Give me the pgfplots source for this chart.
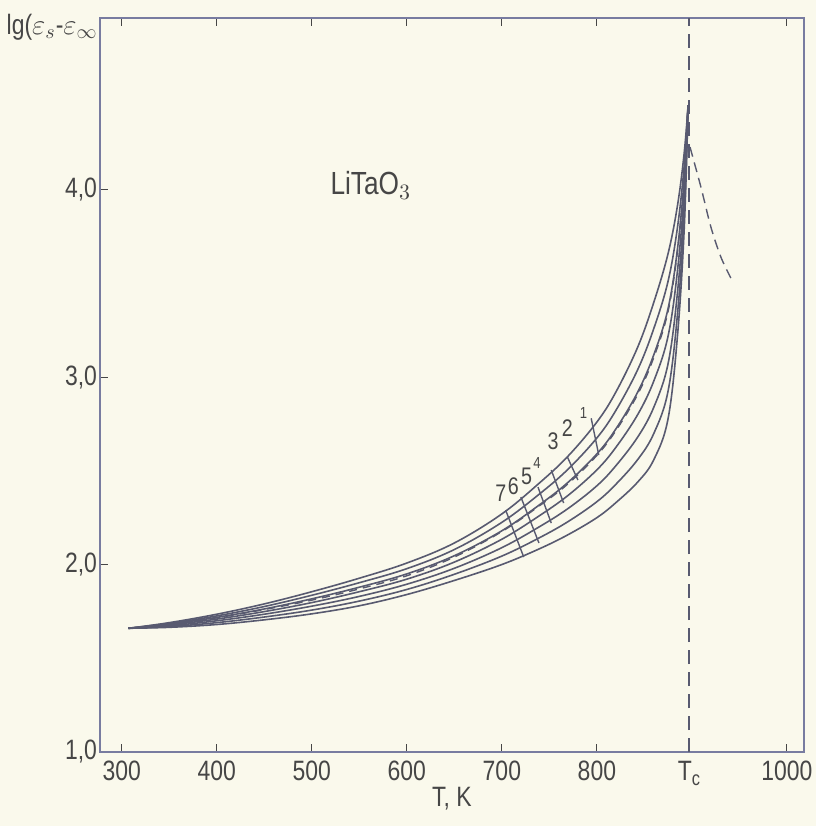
\documentclass[border=0pt]{standalone}
\usepackage{pgfplots}
\pgfplotsset{compat=1.18}
\usepackage{fontspec}
\setmainfont{Liberation Sans}[FakeStretch=0.82]
\definecolor{paper}{RGB}{250,249,236}
\definecolor{ink}{RGB}{88,90,112}
\definecolor{axisc}{RGB}{120,124,160}
\definecolor{txt}{RGB}{70,70,70}
\begin{document}
\begin{tikzpicture}
\fill[paper] (-50pt,-37pt) rectangle (358pt,376pt);
\begin{axis}[
  scale only axis, width=352pt, height=367pt,
  xmin=277, xmax=1018, ymin=1.0, ymax=4.915,
  axis line style={axisc, line width=1.1pt},
  tick align=inside, major tick length=4pt,
  tick style={txt, line width=0.5pt},
  xtick={300,400,500,600,700,800,897,1000},
  xticklabels={300,400,500,600,700,800,T\raisebox{-0.35ex}{\fontsize{10}{10}\selectfont c},1000},
  ytick={1,2,3,4},
  yticklabels={{1,0},{2,0},{3,0},{4,0}},
  ytick pos=left,
  ticklabel style={font=\fontsize{14}{16}\selectfont, text=txt},
  xticklabel style={yshift=-1pt},
  yticklabel style={xshift=2pt},
  xlabel={T, K}, xlabel style={font=\fontsize{14}{16}\selectfont, text=txt, yshift=6pt},
  clip=false,
]
\pgfplotsset{cv/.style={ink, line width=0.8pt, smooth, tension=0.6}}
% curve 1 (lowest)
\addplot[cv] coordinates {(307,1.66)(350,1.665)(400,1.68)(450,1.705)(500,1.737)(550,1.78)(600,1.84)(650,1.915)(700,2.00)(740,2.085)(770,2.16)(800,2.25)(820,2.33)(843,2.44)(860,2.56)(875,2.78)(885,3.23)(892,3.80)(896,4.45)};
% curve 2
\addplot[cv] coordinates {(307,1.66)(350,1.669)(400,1.69)(450,1.72)(500,1.757)(550,1.805)(600,1.867)(650,1.948)(700,2.045)(740,2.144)(770,2.23)(800,2.335)(820,2.428)(843,2.56)(860,2.70)(875,2.927)(885,3.345)(892,3.867)(896,4.45)};
% curve 3
\addplot[cv] coordinates {(307,1.66)(350,1.673)(400,1.70)(450,1.735)(500,1.778)(550,1.83)(600,1.895)(650,1.98)(700,2.09)(740,2.203)(770,2.30)(800,2.42)(820,2.527)(843,2.68)(860,2.84)(875,3.073)(885,3.46)(892,3.933)(896,4.45)};
% curve 4
\addplot[cv] coordinates {(307,1.66)(350,1.678)(400,1.709)(450,1.749)(500,1.797)(550,1.855)(600,1.922)(650,2.013)(700,2.135)(740,2.262)(770,2.37)(800,2.505)(820,2.625)(843,2.80)(860,2.98)(875,3.22)(885,3.575)(892,4.00)(896,4.45)};
% curve 5
\addplot[cv] coordinates {(307,1.66)(350,1.682)(400,1.718)(450,1.763)(500,1.817)(550,1.879)(600,1.95)(650,2.047)(700,2.18)(740,2.32)(770,2.44)(800,2.59)(820,2.723)(843,2.92)(860,3.12)(875,3.367)(885,3.69)(892,4.067)(896,4.45)};
% curve 6
\addplot[cv] coordinates {(307,1.66)(350,1.686)(400,1.726)(450,1.776)(500,1.836)(550,1.903)(600,1.978)(650,2.08)(700,2.225)(740,2.378)(770,2.51)(800,2.675)(820,2.822)(843,3.04)(860,3.26)(875,3.513)(885,3.805)(892,4.133)(896,4.45)};
% curve 7 (highest)
\addplot[cv] coordinates {(307,1.66)(350,1.69)(400,1.735)(450,1.79)(500,1.855)(550,1.927)(600,2.008)(650,2.115)(700,2.27)(740,2.437)(770,2.58)(800,2.76)(820,2.92)(843,3.16)(860,3.40)(875,3.66)(885,3.92)(892,4.20)(896,4.45)};
% dashed curve inside the bundle
\addplot[ink, line width=0.7pt, dash pattern=on 4pt off 3pt, smooth, tension=0.6] coordinates {(307,1.66)(350,1.681)(400,1.716)(450,1.76)(500,1.81)(550,1.87)(600,1.94)(650,2.04)(700,2.176)(740,2.315)(770,2.432)(800,2.582)(820,2.714)(843,2.908)(860,3.106)(875,3.352)(885,3.679)(892,4.06)(896,4.45)};
% dashed branch above Tc
\addplot[ink, line width=0.7pt, dash pattern=on 5pt off 3pt, smooth] coordinates {(898,4.227)(909.5,4.013)(920,3.80)(930.5,3.64)(941,3.528)};
% Tc vertical dashed line
\addplot[ink, line width=0.8pt, dash pattern=on 7pt off 4pt] coordinates {(897,1.0)(897,4.915)};
% marker strokes
\addplot[ink, line width=0.7pt] coordinates {(704,2.29)(723,2.04)};
\addplot[ink, line width=0.7pt] coordinates {(720,2.36)(739,2.115)};
\addplot[ink, line width=0.7pt] coordinates {(738,2.413)(752,2.221)};
\addplot[ink, line width=0.7pt] coordinates {(752,2.504)(765,2.328)};
\addplot[ink, line width=0.7pt] coordinates {(769,2.573)(780,2.451)};
\addplot[ink, line width=0.7pt] coordinates {(794,2.78)(802,2.584)};
% curve numbers
\node[text=txt, font=\fontsize{12}{13}\selectfont] at (axis cs:699,2.38) {7};
\node[text=txt, font=\fontsize{12}{13}\selectfont] at (axis cs:712,2.42) {6};
\node[text=txt, font=\fontsize{12}{13}\selectfont] at (axis cs:726,2.47) {5};
\node[text=txt, font=\fontsize{8}{9}\selectfont] at (axis cs:737,2.54) {4};
\node[text=txt, font=\fontsize{12}{13}\selectfont] at (axis cs:754,2.66) {3};
\node[text=txt, font=\fontsize{12}{13}\selectfont] at (axis cs:769,2.73) {2};
\node[text=txt, font=\fontsize{8}{9}\selectfont] at (axis cs:786,2.81) {1};
% compound label
\node[text=txt, font=\fontsize{16}{18}\selectfont] at (axis cs:562,4.02) {LiTaO$_3$};
% y-axis quantity
\node[text=txt, anchor=east, font=\fontsize{14}{16}\selectfont, inner sep=1pt] at (rel axis cs:0,0.988) {lg($\varepsilon_s$-$\varepsilon_\infty$};
\end{axis}
\end{tikzpicture}
\end{document}
